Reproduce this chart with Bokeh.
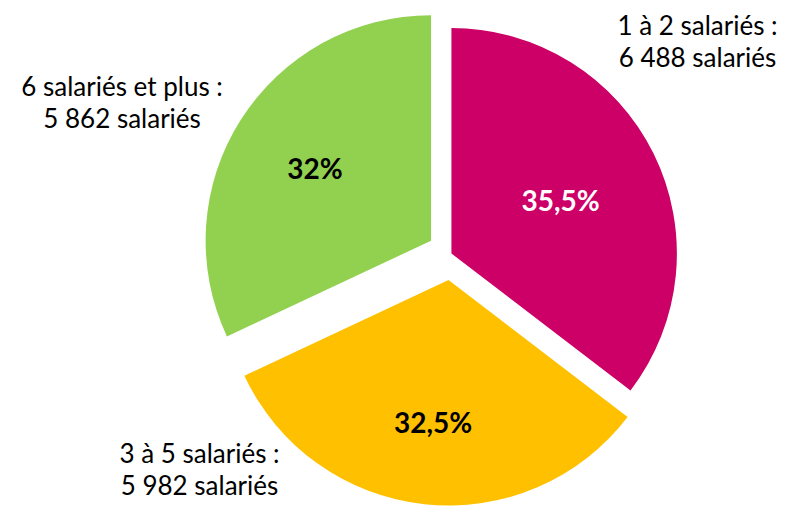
import numpy as np
from bokeh.plotting import figure
from bokeh.models import ColumnDataSource, Range1d
from bokeh.core.properties import value
from bokeh.embed import file_html
from bokeh.resources import INLINE

# ---- data ----
categories = ["1 à 2 salariés", "3 à 5 salariés", "6 salariés et plus"]
counts = [6488, 5982, 5862]
pct_labels = ["35,5%", "32,5%", "32%"]
count_labels = ["6 488 salariés", "5 982 salariés", "5 862 salariés"]

# ---- style / layout ----
colors = ["#CC0066", "#FFC000", "#92D050"]
pct_colors = ["#FFFFFF", "#000000", "#000000"]
explode = [0.0, 0.12, 0.107]          # fraction of radius
label_r = [0.54, 0.64, 0.61]          # label distance, fraction of radius
W, H = 795, 506                        # figure size in pixels
XW, YH = 811, 522                      # coordinate frame
CX, CY, R = 460, 261, 230
FONT = "Lato"

# outer label anchors (x centre, baseline of first line), line spacing
outer_pos = [(711, 497), (203, 55), (124, 434)]
LINE = 33

total = float(sum(counts))
fr = np.array(counts) / total
cum = np.concatenate([[0.0], np.cumsum(fr)])
start = np.pi / 2 - 2 * np.pi * cum[:-1]
end = np.pi / 2 - 2 * np.pi * cum[1:]
mid = (start + end) / 2
cx = CX + np.array(explode) * R * np.cos(mid)
cy = CY + np.array(explode) * R * np.sin(mid)

src = ColumnDataSource(dict(x=cx, y=cy, start=start, end=end, color=colors))

p = figure(width=W, height=H, output_backend="svg", toolbar_location=None,
           x_range=Range1d(0, XW), y_range=Range1d(0, YH), min_border=0,
           tools="")
p.axis.visible = False
p.grid.visible = False
p.outline_line_color = None
p.background_fill_color = "white"
p.border_fill_color = "white"

p.wedge(x="x", y="y", radius=R, start_angle="start", end_angle="end",
        direction="clock", fill_color="color", line_color=None, source=src)

lx = cx + np.array(label_r) * R * np.cos(mid)
ly = cy + np.array(label_r) * R * np.sin(mid)
p.text(x=lx, y=ly, text=pct_labels, text_color=pct_colors,
       text_font=value(FONT), text_font_style="bold", text_font_size="28px",
       text_align="center", text_baseline="middle")

l1 = [c + " :" for c in categories]
ox = [o[0] for o in outer_pos]
oy = [o[1] for o in outer_pos]
p.text(x=ox, y=oy, text=l1, text_color="#000000", text_font=value(FONT),
       text_font_size="26px", text_align="center", text_baseline="alphabetic")
p.text(x=ox, y=[v - LINE for v in oy], text=count_labels, text_color="#000000",
       text_font=value(FONT), text_font_size="26px", text_align="center",
       text_baseline="alphabetic")

open("out.html", "w").write(file_html(p, INLINE))
